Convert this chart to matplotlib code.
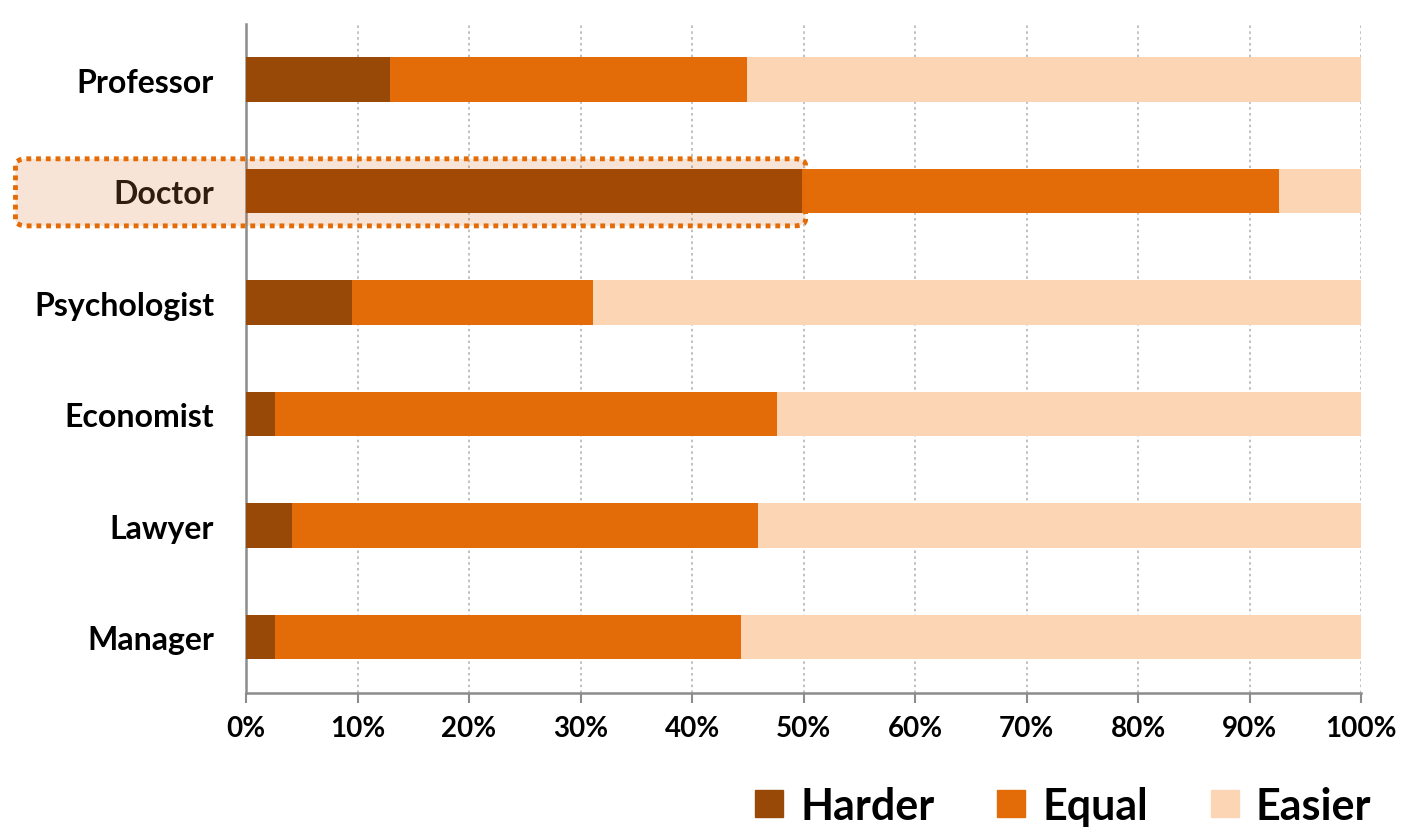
import matplotlib
matplotlib.use("Agg")
import matplotlib.pyplot as plt
from matplotlib.patches import FancyBboxPatch, Patch

# data, bottom row first
jobs = ["Manager", "Lawyer", "Economist", "Psychologist", "Doctor", "Professor"]
harder = [2.6, 4.1, 2.6, 9.5, 49.9, 12.9]
equal = [41.8, 41.8, 45.0, 21.6, 42.7, 32.0]
easier = [100 - h - e for h, e in zip(harder, equal)]

c_harder = "#984807"
c_equal = "#E36C09"
c_easier = "#FCD5B5"

plt.rcParams["font.family"] = ["Lato", "DejaVu Sans"]

fig = plt.figure(figsize=(14.06, 8.28), dpi=100)
ax = fig.add_axes([0.175, 0.162, 0.793, 0.808])

ypos = range(len(jobs))
left2 = [h + e for h, e in zip(harder, equal)]
ax.barh(ypos, harder, height=0.4, color=c_harder, label="Harder", zorder=3)
ax.barh(ypos, equal, left=harder, height=0.4, color=c_equal, label="Equal", zorder=3)
ax.barh(ypos, easier, left=left2, height=0.4, color=c_easier, label="Easier", zorder=3)

ax.set_xlim(0, 100)
ax.set_ylim(-0.5, len(jobs) - 0.5)
ax.set_xticks(range(0, 101, 10))
ax.set_xticklabels([f"{v}%" for v in range(0, 101, 10)], fontsize=20, fontweight="bold")
ax.set_yticks(list(ypos))
ax.set_yticklabels(jobs, fontsize=23, fontweight="bold")
ax.tick_params(axis="y", length=0, pad=23)
ax.tick_params(axis="x", length=7, width=1.5, color="#8c8c8c", pad=9)

ax.grid(axis="x", color="#b5b5b5", linestyle=(0, (1.5, 2)), linewidth=1.2, zorder=0)
for s in ["top", "right"]:
    ax.spines[s].set_visible(False)
for s in ["left", "bottom"]:
    ax.spines[s].set_color("#8c8c8c")
    ax.spines[s].set_linewidth(1.8)

# highlight box around the Doctor row
box_xy = (0.011, 0.726)
box_w, box_h = 0.562, 0.081
box = FancyBboxPatch(box_xy, box_w, box_h,
                     boxstyle="round,pad=0,rounding_size=0.008",
                     transform=fig.transFigure, facecolor="#D95A00", alpha=0.16,
                     edgecolor="none", zorder=5)
fig.patches.append(box)
edge = FancyBboxPatch(box_xy, box_w, box_h,
                      boxstyle="round,pad=0,rounding_size=0.008",
                      transform=fig.transFigure, facecolor="none",
                      edgecolor="#E36C09", linewidth=3.5, linestyle=(0, (1, 1)), zorder=6)
fig.patches.append(edge)
ax.get_yticklabels()[4].set_color("#111111")

handles = [Patch(color=c_harder), Patch(color=c_equal), Patch(color=c_easier)]
fig.legend(handles, ["Harder", "Equal", "Easier"], loc="lower right",
           bbox_to_anchor=(1.003, -0.045), ncol=3, frameon=False,
           prop={"size": 31, "weight": "bold"},
           handlelength=0.65, handleheight=0.6, handletextpad=0.4, columnspacing=1.45)

fig.savefig("out.png", dpi=100)
